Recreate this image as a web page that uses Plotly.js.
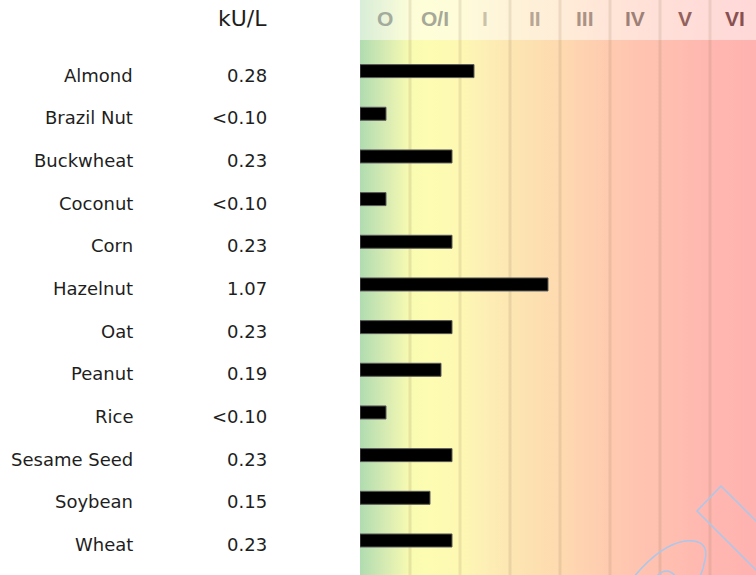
<!DOCTYPE html>
<html><head><meta charset="utf-8">
<script src="https://cdn.plot.ly/plotly-3.0.1.min.js"></script>
<style>html,body{margin:0;padding:0;background:#fff;}#chart{width:756px;height:575px;}</style>
</head><body><div id="chart"></div>
<script>
// ---- data ----
const foods = ['Almond','Brazil Nut','Buckwheat','Coconut','Corn','Hazelnut','Oat','Peanut','Rice','Sesame Seed','Soybean','Wheat'];
const kuL = ['0.28','<0.10','0.23','<0.10','0.23','1.07','0.23','0.19','<0.10','0.23','0.15','0.23'];
const barLength = [2.28,0.52,1.84,0.52,1.84,3.76,1.84,1.62,0.52,1.84,1.40,1.84]; // position on class scale
const classes = ['O','O/I','I','II','III','IV','V','VI'];
const classColors = ['#a3ab9c','#a6a898','#cac2a8','#b8a695','#aa9286','#9d8077','#93625d','#895052'];
const unitTitle = 'kU/L';
const gradStops = [0,0.5,1.0,1.3,2.0,2.5,3.0,3.5,4.0,4.5,5.0,5.5,6.0,6.5,7.0,7.92];
const gradColors = ['#b0dcb0','#d6eab3','#f8fbb0','#fdfdb2','#fdf8b3','#fdefb5','#fde6b2','#fde0b0','#fedab0','#fed2b0','#ffcab0','#ffc4b0','#ffc0b0','#ffbbb0','#ffb7b0','#ffb2b0'];

// ---- geometry (axis ranges) ----
const xMax = 7.92;
const yTop = -1.666, yBottom = 11.809, yHeader = -0.729;
const W = 756, H = 575, L = 360;
const px = v => (v - L) / (W - L);
const py = v => 1 - v / H;

// background gradient image
let stops = gradStops.map((s,i)=>`<stop offset="${(s/xMax).toFixed(4)}" stop-color="${gradColors[i]}"/>`).join('');
const svg = `<svg xmlns="http://www.w3.org/2000/svg" width="396" height="575" viewBox="0 0 396 575" preserveAspectRatio="none"><defs><linearGradient id="g" x1="0" y1="0" x2="1" y2="0">${stops}</linearGradient></defs><rect x="0" y="0" width="396" height="575" fill="url(#g)"/></svg>`;
const bgSrc = 'data:image/svg+xml;charset=utf-8,' + encodeURIComponent(svg);

const shapes = [];
for (let k = 1; k < classes.length; k++) {
  shapes.push({type:'line', layer:'between', xref:'x', yref:'y', x0:k, x1:k, y0:yTop, y1:yBottom,
    line:{color:'rgba(150,120,90,0.17)', width:3}});
}
shapes.push({type:'rect', layer:'between', xref:'paper', yref:'y', x0:0, x1:1, y0:yTop, y1:yHeader,
  fillcolor:'rgba(255,255,255,0.5)', line:{width:0}});
// watermark outline decoration
function path(cmds){ return cmds.map(c=>c[0]+' '+c.slice(1).map((v,j)=> (j%2===0? px(v):py(v)).toFixed(4)).join(',')).join(' '); }
shapes.push({type:'path', xref:'paper', yref:'paper', layer:'above',
  path: path([['M',780,545],['L',721,486],['L',697,511],['L',780,594]]),
  line:{color:'#a9c8ec', width:1.5}});
shapes.push({type:'path', xref:'paper', yref:'paper', layer:'above',
  path: path([['M',633,578],['Q',660,545,685,541],['Q',710,539,705,560],['Q',703,572,698,580]]),
  line:{color:'#a9c8ec', width:1.5}});
shapes.push({type:'path', xref:'paper', yref:'paper', layer:'above',
  path: path([['M',655,578],['Q',667,564,677,578]]),
  line:{color:'#a9c8ec', width:1.5}});

const idx = foods.map((_,i)=>i);
const annotations = [];
foods.forEach((f,i)=>{
  annotations.push({xref:'paper', yref:'y', x:px(133), y:i, xshift:2, yshift:-4, xanchor:'right', yanchor:'middle',
    text:f, showarrow:false, font:{family:'DejaVu Sans', size:18, color:'#1e1e1e'}});
  annotations.push({xref:'paper', yref:'y', x:px(267), y:i, xshift:2, yshift:-4, xanchor:'right', yanchor:'middle',
    text:kuL[i], showarrow:false, font:{family:'DejaVu Sans', size:18, color:'#1e1e1e'}});
});
annotations.push({xref:'paper', yref:'paper', x:px(267), y:py(19), xshift:2, xanchor:'right', yanchor:'middle',
  text:unitTitle, showarrow:false, font:{family:'DejaVu Sans', size:22, color:'#1e1e1e'}});
classes.forEach((c,k)=>{
  annotations.push({xref:'x', yref:'paper', x:k+0.5, y:py(19), xanchor:'center', yanchor:'middle',
    text:'<b>'+c+'</b>', showarrow:false, font:{family:'Liberation Sans', size:21, color:classColors[k]}});
});

const trace = {type:'bar', orientation:'h', y:idx, x:barLength, width:0.305,
  marker:{color:'#000', line:{color:'#5a5a5a', width:1}}, hoverinfo:'skip'};

const layout = {
  width:W, height:H, margin:{l:L, r:0, t:0, b:0, pad:0},
  paper_bgcolor:'#fff', plot_bgcolor:'rgba(0,0,0,0)', showlegend:false,
  xaxis:{range:[0,xMax], showgrid:false, zeroline:false, showticklabels:false, ticks:'', showline:false, fixedrange:true},
  yaxis:{range:[yBottom,yTop], showgrid:false, zeroline:false, showticklabels:false, ticks:'', showline:false, fixedrange:true},
  images:[{source:bgSrc, xref:'paper', yref:'paper', x:0, y:1, sizex:1, sizey:1, xanchor:'left', yanchor:'top', sizing:'stretch', layer:'below'}],
  shapes, annotations
};
Plotly.newPlot('chart', [trace], layout, {displayModeBar:false, staticPlot:true});
</script></body></html>
